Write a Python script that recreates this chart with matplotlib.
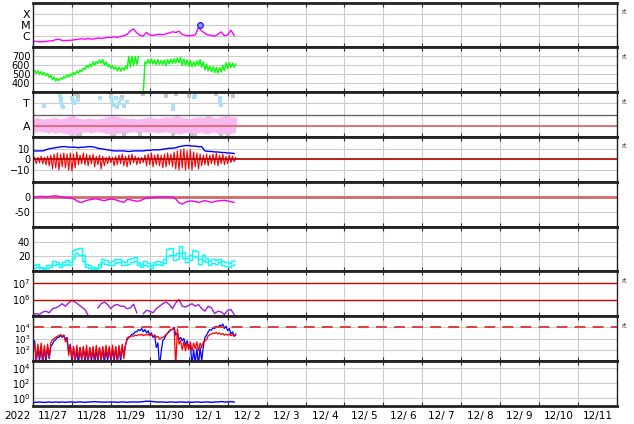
import matplotlib
matplotlib.use('Agg')
import matplotlib.pyplot as plt
import numpy as np

# hours after 2022-11-27 00:00 UT, 2-hour cadence
hours = np.arange(0, 125, 2)
nan = np.nan

# GOES X-ray flux (W/m2)
xray = [3.5e-7, 3.5e-7, 3.2e-7, 3.3e-7, 3.5e-7, 3.8e-7, 4.0e-7, 5.0e-7, 5.5e-7, 4.2e-7, 4.2e-7, 4.3e-7,
        4.5e-7, 5.0e-7, 5.5e-7, 6.0e-7, 5.5e-7, 6.5e-7, 5.5e-7, 6.0e-7, 7.0e-7, 6.5e-7, 7.0e-7, 8.0e-7,
        8.0e-7, 9.0e-7, 8.0e-7, 1.0e-6, 1.1e-6, 1.5e-6, 3.0e-6, 4.5e-6, 2.0e-6, 1.2e-6, 1.1e-6, 2.2e-6,
        1.3e-6, 1.2e-6, 1.4e-6, 1.5e-6, 1.4e-6, 1.6e-6, 2.0e-6, 2.5e-6, 2.2e-6, 2.8e-6, 1.5e-6, 1.2e-6,
        1.1e-6, 1.2e-6, 1.3e-6, 6.0e-6, 3.0e-6, 1.8e-6, 1.3e-6, 1.2e-6, 1.0e-6, 1.5e-6, 2.5e-6, 1.1e-6,
        1.3e-6, 3.5e-6, 1.2e-6]
flare_hour = [103]
flare_flux = [1.0e-5]

# solar wind speed (km/s), min / max in each 2-hour bin
speed_hi = [545, 540, 530, 520, 510, 490, 470, 455, 460, 475, 495, 505,
            520, 535, 550, 570, 600, 615, 640, 645, 660, 665, 640, 610,
            600, 585, 580, 575, 590, 700, 700, 700, 700, nan, 640, 665,
            670, 660, 665, 655, 660, 665, 670, 675, 680, 690, 670, 660,
            655, 640, 650, 665, 640, 615, 590, 585, 580, 575, 600, 630,
            630, 625, 615]
speed_lo = [515, 510, 500, 495, 485, 465, 440, 425, 430, 445, 460, 470,
            485, 500, 515, 530, 555, 575, 585, 600, 620, 625, 600, 585,
            570, 555, 540, 535, 545, 560, 580, 600, 610, nan, 290, 615,
            620, 615, 610, 610, 610, 600, 615, 620, 625, 630, 600, 600,
            590, 585, 590, 600, 580, 550, 540, 530, 520, 515, 525, 540,
            570, 575, 580]

# IMF sector (A = 1, T = 3)
away_lo = [0.55, 0.5, 0.6, 0.55, 0.5, 0.45, 0.5, 0.4, 0.5, 0.45, 0.4, 0.35,
           0.3, 0.35, 0.4, 0.5, 0.5, 0.55, 0.45, 0.5, 0.55, 0.5, 0.45, 0.4,
           0.35, 0.3, 0.4, 0.45, 0.5, 0.45, 0.5, 0.55, 0.5, 0.6, 0.55, 0.5,
           0.5, 0.55, 0.5, 0.45, 0.5, 0.55, 0.5, 0.45, 0.4, 0.35, 0.4, 0.45,
           0.5, 0.45, 0.4, 0.45, 0.5, 0.4, 0.35, 0.45, 0.5, 0.4, 0.35, 0.4,
           0.35, 0.4, 0.45]
away_hi = [1.5, 1.6, 1.5, 1.45, 1.5, 1.55, 1.6, 1.55, 1.45, 1.5, 1.6, 1.7,
           1.75, 1.6, 1.5, 1.45, 1.5, 1.55, 1.5, 1.45, 1.5, 1.55, 1.6, 1.7,
           1.75, 1.7, 1.65, 1.6, 1.55, 1.5, 1.55, 1.5, 1.45, 1.5, 1.55, 1.6,
           1.6, 1.55, 1.5, 1.55, 1.6, 1.65, 1.6, 1.7, 1.75, 1.65, 1.6, 1.55,
           1.5, 1.55, 1.6, 1.65, 1.6, 1.7, 1.75, 1.6, 1.55, 1.6, 1.7, 1.75,
           1.7, 1.65, 1.6]
toward_h = [7, 16.5, 17, 17.5, 18, 18.5, 24, 24.5, 25, 28, 41, 48, 49, 50, 51, 52, 53, 54,
            56, 58, 86, 86.5, 99, 100, 115, 115.5, 116]
toward_v = [2.8, 3.7, 3.4, 3.1, 2.9, 2.7, 3.5, 3.2, 3.0, 3.3, 3.5, 3.6, 3.2, 2.9, 3.5, 2.7, 3.0, 3.4,
            2.8, 3.1, 2.8, 2.5, 3.6, 3.7, 3.5, 3.2, 2.9]
unsure_h = [24, 26, 27, 28, 29, 48, 49, 50, 55, 56, 66, 68, 82, 86, 88, 96, 98, 100, 113, 116, 120, 123]
unsure_v = [0.2, 3.8, 0.1, 3.7, 0.3, 3.8, 0.2, 0.1, 3.6, 0.25, 0.3, 3.8, 3.7, 0.2, 3.8, 3.7, 0.15,
            0.2, 3.8, 0.2, 0.3, 3.7]

# IMF Bt and Bz (nT)
bt = [7.9, 8.0, 8.0, 8.0, 9.0, 10.0, 10.5, 11.0, 11.5, 12.0, 12.0, 11.5,
      11.5, 11.5, 11.0, 11.5, 11.5, 12.0, 12.0, 11.5, 10.5, 10.0, 9.5, 9.0,
      8.5, 8.0, 8.0, 8.0, 8.0, 7.5, 7.5, 8.0, 8.0, 8.0, 8.0, 8.5,
      8.5, 9.0, 9.0, 9.0, 9.5, 10.0, 10.5, 10.5, 11.0, 12.0, 12.5, 13.0,
      13.0, 12.5, 12.5, 12.0, 12.0, 8.0, 7.5, 7.5, 7.0, 7.0, 6.5, 6.5,
      6.0, 6.0, 5.5]
bz_lo = [-3, -4, -3, -4, -5, -6, -9, -8, -10, -7, -8, -10,
         -11, -8, -5, -4, -5, -6, -4, -7, -5, -9, -6, -4,
         -3, -6, -5, -4, -6, -7, -5, -3, -5, -4, -3, -6,
         -5, -7, -5, -6, -8, -7, -5, -7, -9, -10, -8, -10,
         -9, -10, -7, -9, -6, -5, -6, -4, -5, -6, -4, -5,
         -4, -3, -2]
bz_hi = [2, 2, 3, 2, 3, 4, 5, 6, 5, 6, 5, 6,
         5, 7, 4, 6, 5, 4, 5, 3, 4, 3, 2, 3,
         2, 3, 4, 5, 3, 4, 5, 3, 2, 2, 4, 5,
         6, 4, 5, 4, 5, 6, 5, 7, 8, 9, 10, 8,
         9, 7, 6, 5, 4, 5, 4, 5, 6, 4, 5, 3,
         4, 3, 2]

# Dst (nT)
dst = [-1, 0, 1, 1, 0, 1, 2, 3, 1, -1, -3, -3,
       -5, -10, -17, -19, -14, -11, -9, -7, -8, -11, -13, -10,
       -8, -9, -12, -16, -19, -9, -10, -13, -15, -14, -8, -5,
       -3, -3, -2, -1, 0, 0, -1, -1, -8, -20, -25, -18,
       -15, -14, -16, -19, -16, -13, -16, -19, -16, -14, -13, -12,
       -14, -17, -19]

# proton density, two sources
dens1 = [8, 10, 6, 5, 8, 9, 14, 12, 10, 13, 15, 12,
         28, 30, 31, 22, 10, 8, 6, 5, 10, 17, 15, 12,
         14, 16, 17, 14, 12, 16, 18, 19, 12, 10, 14, 11,
         9, 12, 14, 13, 17, 30, 31, 22, 25, 34, 26, 18,
         22, 28, 27, 16, 22, 18, 14, 16, 15, 17, 14, 12,
         11, 14, 15]
dens2 = [4, 6, 4, 3, 5, 6, 8, 10, 6, 8, 10, 8,
         18, 24, 22, 14, 6, 4, 3, 3, 6, 12, 10, 8,
         9, 11, 13, 9, 8, 10, 12, 14, 8, 6, 9, 7,
         5, 8, 10, 9, 11, 20, 22, 15, 17, 24, 18, 12,
         15, 20, 19, 10, 15, 12, 9, 11, 10, 12, 9, 7,
         6, 8, 10]

# log10 electron fluence
efl_log = [5.1, 5.15, 5.1, 5.25, 5.3, 5.2, 5.45, 5.5, 5.6, 5.75, 5.6, 5.8,
           5.95, 5.85, 5.7, 5.55, 5.4, 5.05, nan, nan, 5.5, 5.75, 5.85, 5.7,
           5.45, 5.65, 5.7, 5.6, 5.6, 5.45, 5.5, 5.72, 5.2, nan, 5.15, 5.35,
           5.3, 5.2, 5.45, 5.6, 5.75, 5.85, 5.7, 5.45, 5.8, 6.0, 5.6, 5.55,
           5.65, 5.75, 5.6, 5.7, 5.45, 5.3, 5.6, 5.5, 5.15, 5.3, 5.25, 5.1,
           5.35, 5.4, 5.1]

# log10 electron flux, two satellites (min / max per bin)
eb_hi = [2.8, 2.2, 2.3, 2.1, 2.2, 2.3, 2.8, 3.1, 3.3, 3.3, 3.1, 2.5,
         2.1, 2.0, 2.2, 2.1, 2.0, 2.2, 2.1, 2.0, 2.2, 2.1, 2.0, 2.1,
         2.0, 2.1, 2.2, 2.1, 2.4, 3.1, 3.4, 3.6, 3.8, 3.9, 3.8, 3.7,
         3.5, 3.3, 2.6, 1.8, 3.0, 3.5, 3.8, 4.0, 3.5, 3.1, 3.0, 2.8,
         2.5, 2.0, 2.1, 2.2, 2.3, 3.3, 3.8, 3.95, 4.1, 4.2, 4.3, 4.1,
         3.9, 3.6, 3.4]
eb_lo = [2.6, 0.8, 1.0, 0.7, 0.9, 1.2, 2.5, 2.9, 3.1, 3.1, 2.9, 1.8,
         0.8, 1.0, 0.7, 1.1, 0.9, 0.8, 1.0, 0.7, 0.9, 1.0, 0.8, 1.0,
         0.9, 1.0, 0.8, 1.0, 1.6, 2.9, 3.2, 3.4, 3.6, 3.7, 3.6, 3.5,
         3.3, 3.1, 2.2, 0.5, 2.8, 3.3, 3.6, 3.8, 3.3, 2.9, 2.8, 2.4,
         2.2, 0.6, 0.8, 0.6, 1.0, 3.1, 3.6, 3.75, 3.9, 4.0, 4.1, 3.9,
         3.7, 3.4, 3.2]
er_hi = [2.6, 2.5, 2.6, 2.4, 2.5, 2.6, 3.0, 3.2, 3.35, 3.3, 2.9, 2.4,
         2.3, 2.4, 2.2, 2.3, 2.4, 2.2, 2.3, 2.4, 2.2, 2.3, 2.4, 2.3,
         2.4, 2.3, 2.4, 2.5, 2.4, 3.15, 3.25, 3.3, 3.35, 3.4, 3.35, 3.4,
         3.35, 3.3, 3.2, 3.05, 3.2, 3.45, 3.8, 3.9, 3.85, 2.8, 2.7, 2.6,
         2.7, 2.6, 2.7, 2.6, 2.7, 2.9, 3.35, 3.5, 3.55, 3.5, 3.45, 3.4,
         3.4, 3.35, 3.3]
er_lo = [2.5, 1.1, 1.3, 1.0, 1.2, 1.4, 2.9, 3.1, 3.25, 3.2, 2.7, 1.5,
         1.2, 1.0, 1.3, 1.1, 1.2, 1.0, 1.3, 1.1, 1.2, 1.0, 1.2, 1.3,
         1.1, 1.2, 1.0, 1.3, 1.2, 3.05, 3.15, 3.2, 3.25, 3.3, 3.25, 3.3,
         3.25, 3.2, 3.1, 2.95, 3.1, 3.35, 3.7, 3.8, 0.5, 2.5, 2.0, 1.9,
         2.0, 1.9, 2.1, 1.9, 2.2, 2.8, 3.25, 3.4, 3.45, 3.4, 3.35, 3.3,
         3.3, 3.25, 3.2]

# log10 proton flux
prot_log = [-0.55, -0.55, -0.5, -0.55, -0.55, -0.5, -0.55, -0.5, -0.55, -0.5, -0.55, -0.5,
            -0.5, -0.55, -0.5, -0.5, -0.55, -0.5, -0.5, -0.45, -0.5, -0.5, -0.55, -0.5,
            -0.5, -0.5, -0.55, -0.5, -0.5, -0.55, -0.5, -0.5, -0.5, -0.5, -0.45, -0.4,
            -0.4, -0.45, -0.5, -0.5, -0.5, -0.55, -0.5, -0.5, -0.55, -0.5, -0.5, -0.55,
            -0.5, -0.55, -0.5, -0.5, -0.55, -0.5, -0.5, -0.55, -0.5, -0.5, -0.45, -0.5,
            -0.5, -0.45, -0.5]

day_labels = ['11/27', '11/28', '11/29', '11/30', '12/ 1', '12/ 2', '12/ 3', '12/ 4',
              '12/ 5', '12/ 6', '12/ 7', '12/ 8', '12/ 9', '12/10', '12/11']


def zigzag(t, lo, hi):
    # alternate min and max so the trace looks like the raw spiky data
    tt = np.column_stack([t, np.asarray(t) + 1]).ravel()
    yy = np.column_stack([lo, hi]).ravel()
    return tt, yy


fig, axes = plt.subplots(9, 1, figsize=(6.34, 4.24), dpi=100, sharex=True)
fig.subplots_adjust(left=33/634, right=617/634, top=1-2.7/424, bottom=1-405.7/424, hspace=0)

ndays = len(day_labels)
grid_c = '#cccccc'
for ax in axes:
    ax.set_axisbelow(True)
    for s in ('top', 'bottom'):
        ax.spines[s].set_linewidth(2)
        ax.spines[s].set_color('#222222')
    for s in ('left', 'right'):
        ax.spines[s].set_linewidth(1)
        ax.spines[s].set_color('#222222')
    ax.set_xlim(0, 24 * ndays)
    ax.tick_params(axis='y', length=0, labelsize=7, pad=2)
    ax.grid(True, axis='x', which='major', color=grid_c, lw=0.8)
    ax.grid(True, axis='y', color=grid_c, lw=0.8)

# 1: X-ray
ax = axes[0]
ax.set_yscale('log')
ax.set_ylim(1e-7, 1e-3)
ax.plot(hours, xray, color='#ff00ff', lw=1)
ax.plot(flare_hour, flare_flux, 'o', ms=4, mfc='#9999ff', mec='#2222ff', mew=1)
ax.set_yticks([1e-6, 1e-5, 1e-4], ['C', 'M', 'X'], fontsize=8)

# 2: solar wind speed
ax = axes[1]
ax.set_ylim(300, 800)
ax.plot(*zigzag(hours, speed_lo, speed_hi), color='#00ff00', lw=1)
ax.set_yticks([400, 500, 600, 700])

# 3: IMF sector
ax = axes[2]
ax.set_ylim(0, 4)
ax.plot(*zigzag(hours, away_lo, away_hi), color='#f8b8f0', lw=2.5)
ax.scatter(unsure_h, unsure_v, s=6, marker='s', color='#c4c4c4', lw=0)
ax.scatter(toward_h, toward_v, s=7, marker='s', color='#a8e0f8', lw=0)
ax.axhline(1, color='#e06060', lw=1.2)
ax.axhline(2, color='#666666', lw=1)
ax.set_yticks([1, 3], ['A', 'T'], fontsize=8)

# 4: IMF Bt / Bz
ax = axes[3]
ax.set_ylim(-21, 21)
ax.plot(*zigzag(hours, bz_lo, bz_hi), color='#ff0000', lw=0.8)
ax.plot(hours, bt, color='#0000ff', lw=1)
ax.axhline(0, color='#b00000', lw=1.2)
ax.set_yticks([-10, 0, 10], ['\u221210', '0', '10'])

# 5: Dst
ax = axes[4]
ax.set_ylim(-100, 50)
ax.axhline(0, color='#d06868', lw=2)
ax.plot(hours, dst, color='#ee00ee', lw=1)
ax.set_yticks([-50, 0], ['-50', '0'])

# 6: density
ax = axes[5]
ax.set_ylim(0, 60)
ax.plot(hours, dens1, color='#00ffff', lw=1, drawstyle='steps-post')
ax.plot(hours, dens2, color='#00ffff', lw=1, drawstyle='steps-post')
ax.set_yticks([20, 40])

# 7: electron fluence
ax = axes[6]
ax.set_yscale('log')
ax.set_ylim(1e5, 5e7)
ax.plot(hours, 10 ** np.array(efl_log), color='#a020d0', lw=1)
ax.axhline(1e6, color='#cc0000', lw=1)
ax.axhline(1e7, color='#cc0000', lw=1)
ax.set_yticks([1e6, 1e7], ['$10^6$', '$10^7$'])
ax.grid(False, axis='y')

# 8: electron flux
ax = axes[7]
ax.set_yscale('log')
ax.set_ylim(10, 1e5)
bt_t, bt_y = zigzag(hours, eb_lo, eb_hi)
ax.plot(bt_t, 10 ** bt_y, color='#0000ff', lw=0.9)
rt_t, rt_y = zigzag(hours, er_lo, er_hi)
ax.plot(rt_t, 10 ** rt_y, color='#ff0000', lw=0.9)
ax.axhline(1e4, color='#e03030', lw=1.3, dashes=(6, 4))
ax.set_yticks([1e2, 1e3, 1e4], ['$10^2$', '$10^3$', '$10^4$'], fontsize=6.3)

# 9: proton flux
ax = axes[8]
ax.set_yscale('log')
ax.set_ylim(0.1, 1e5)
ax.plot(hours, 10 ** np.array(prot_log), color='#0000ff', lw=1)
ax.set_yticks([1e0, 1e2, 1e4], ['$10^0$', '$10^2$', '$10^4$'])

for ax in axes:
    ax.minorticks_off()
    ax.set_xticks(np.arange(0, 24 * ndays + 1, 24))
    ax.set_xticks(np.arange(12, 24 * ndays, 24), minor=True)
    ax.tick_params(axis='x', which='major', direction='in', length=3, top=True,
                   labelbottom=False, color='#333333')
    ax.tick_params(axis='x', which='minor', length=0, labelbottom=False)
    ax.tick_params(axis='y', which='both', length=0)

axes[-1].set_xticklabels(day_labels, minor=True)
axes[-1].tick_params(axis='x', which='minor', labelbottom=True, labelsize=7.5, pad=4)

for i in (0, 1, 2, 3, 6, 7):
    axes[i].text(1.007, 0.79, 'rt', transform=axes[i].transAxes, fontsize=5,
                 color='#444444', va='center', ha='left')

fig.text(17/634, 1 - 416/424, '2022', ha='center', va='center', fontsize=7.5)

fig.savefig('out.png', dpi=100)
